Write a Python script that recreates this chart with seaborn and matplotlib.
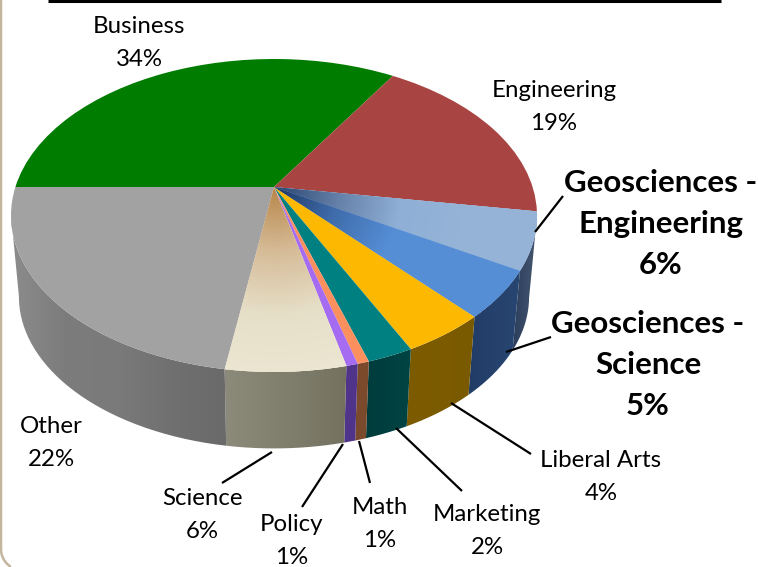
import numpy as np
import matplotlib
matplotlib.use('Agg')
import matplotlib.pyplot as plt
import matplotlib.transforms as mtransforms
from matplotlib.patches import PathPatch
from matplotlib.path import Path
import seaborn as sns

# slices clockwise from the left, sizes, labels as printed
categories = ['Business', 'Engineering', 'Geosciences -\nEngineering', 'Geosciences -\nScience',
              'Liberal Arts', 'Marketing', 'Math', 'Policy', 'Science', 'Other']
shares = [33.9, 18.6, 5.9, 4.9, 4.4, 2.4, 0.6, 0.6, 6.2, 22.5]
printed_pct = ['34%', '19%', '6%', '5%', '4%', '2%', '1%', '1%', '6%', '22%']
highlighted = ['Geosciences -\nEngineering', 'Geosciences -\nScience']

top_colors = ['#007c00', '#a84543', '#8fafd6', '#558ed5', '#fdb902', '#008080',
              '#fb8f5e', '#a56cf2', '#ece6d2', '#a2a2a2']
# colour stops from the centre to the rim for the shaded slices
top_shading = {2: ['#2a4672', '#6480a8', '#8fafd6', '#95b3d7'],
               3: ['#1f3864', '#3f6cab', '#558ed5', '#558ed5'],
               8: ['#b8874a', '#d6bc98', '#e6dfc8', '#ece6d2']}
# side wall colours, left to right
wall_shading = {2: ['#2b3f5e', '#46566e'],
                3: ['#223c66', '#284672'],
                4: ['#7d5c00', '#7a5a00'],
                5: ['#003c3c', '#004444'],
                6: ['#7b4a2c', '#7b4a2c'],
                7: ['#50348a', '#50348a'],
                8: ['#8c8a7a', '#74725f'],
                9: ['#8c8c8c', '#7c7c7c', '#7a7a7a', '#707070', '#6a6a6a']}

# where the labels and leader lines sit, in pixels
label_xy = [(139, 43), (554, 107), (661, 224), (648, 365), (601, 477),
            (487, 531), (380, 524), (292, 541), (202, 515), (51, 443)]
leaders = [((535, 232), (563, 196)), ((506, 352), (551, 337)), ((451, 403), (531, 454)),
           ((396, 428), (462, 491)), ((359, 441), (370, 483)), ((343, 444), (302, 507)),
           ((272, 452), (222, 483))]

APEX_X, APEX_Y = 274, 187


class PieView(mtransforms.Transform):
    # projective view of the flat pie, drop and shrink give the lower rim
    input_dims = 2
    output_dims = 2

    def __init__(self, drop=0, shrink=1.0):
        super().__init__()
        self.drop = drop
        self.shrink = shrink

    def transform_non_affine(self, values):
        values = np.asarray(values, dtype=float)
        w = 1 + 0.182 * values[:, 1]
        x = APEX_X + 258.6 * self.shrink * values[:, 0] / w
        y = APEX_Y - 151.3 * self.shrink * values[:, 1] / w + self.drop
        return np.column_stack([x, y])


def trim_rim(rim):
    # keep only the front of the rim, between its left and right tangents
    return rim[np.argmin(rim[:, 0]):np.argmax(rim[:, 0]) + 1]


sns.set_theme(style='white')
plt.rcParams['font.family'] = ['Lato', 'DejaVu Sans']

fig = plt.figure(figsize=(7.58, 5.67), dpi=100)
ax = fig.add_axes([0, 0, 1, 1])

wedges, _ = ax.pie(shares, colors=top_colors, startangle=180, counterclock=False,
                   wedgeprops={'linewidth': 0})

top_view = PieView()
bottom_view = PieView(drop=82, shrink=0.97)

xx, yy = np.meshgrid(np.arange(0, 758, 4), np.arange(0, 567, 4))
radius_px = np.hypot(xx - APEX_X, yy - APEX_Y)

# side walls first, the top faces hide whatever is behind them
for i, stops in wall_shading.items():
    angles = np.radians(np.linspace(wedges[i].theta1, wedges[i].theta2, 80))
    circle = np.column_stack([np.cos(angles), np.sin(angles)])
    top_rim = trim_rim(top_view.transform_non_affine(circle))
    low_rim = trim_rim(bottom_view.transform_non_affine(circle))
    outline = np.vstack([top_rim, low_rim[::-1], top_rim[:1]])
    patch = PathPatch(Path(outline), transform=ax.transData, facecolor='none', linewidth=0)
    ax.add_patch(patch)
    cmap = sns.blend_palette(stops, as_cmap=True)
    img = ax.imshow(np.linspace(0, 1, 200)[None, :], cmap=cmap, aspect='auto', zorder=1,
                    extent=(outline[:, 0].min(), outline[:, 0].max(), 567, 0))
    img.set_clip_path(patch)

for i, wedge in enumerate(wedges):
    wedge.set_transform(top_view + ax.transData)
    wedge.set_zorder(2)
    if i in top_shading:
        cmap = sns.blend_palette(top_shading[i], as_cmap=True)
        img = ax.imshow(radius_px, cmap=cmap, vmin=0, vmax=190, aspect='auto', zorder=3,
                        extent=(0, 758, 567, 0), interpolation='bilinear')
        img.set_clip_path(wedge)

for (start, end) in leaders:
    ax.plot([start[0], end[0]], [start[1], end[1]], color='black', lw=1.6, zorder=4,
            solid_capstyle='butt')

for name, pct, (x, y) in zip(categories, printed_pct, label_xy):
    big = name in highlighted
    ax.text(x, y, f'{name}\n{pct}', ha='center', va='center', zorder=5, color='black',
            linespacing=1.57 if big else 1.67,
            fontsize=22.5 if big else 17.3, fontweight='bold' if big else 'normal')

# slide furniture: rule on top, frame edge with its rounded corner at the bottom left
ax.plot([48, 721], [1, 1], color='black', lw=2.2, zorder=6, solid_capstyle='butt')
corner = np.radians(np.linspace(180, 125, 30))
frame_x = np.r_[1, 22 + 21 * np.cos(corner)]
frame_y = np.r_[0, 549 + 21 * np.sin(corner)]
ax.plot(frame_x, frame_y, color='#c4b59e', lw=1.8, zorder=6)

ax.set_aspect('auto')
ax.set_xlim(0, 758)
ax.set_ylim(567, 0)
ax.axis('off')

fig.savefig('out.png', dpi=100)
